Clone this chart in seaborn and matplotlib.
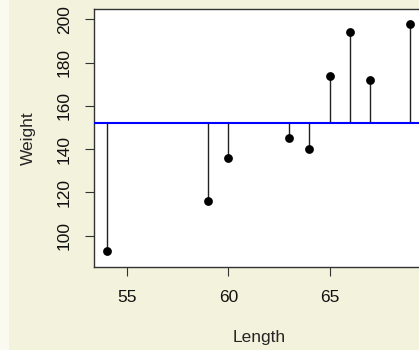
import numpy as np
import pandas as pd
import seaborn as sns
import matplotlib.pyplot as plt
from matplotlib.patches import Rectangle

# Data
length = [54, 59, 60, 63, 64, 65, 66, 67, 69]
weight = [93, 116, 136, 145, 140, 174, 194, 172, 198]
x_ticks = [55, 60, 65]
y_ticks = [100, 120, 140, 160, 180, 200]

df = pd.DataFrame({'Length': length, 'Weight': weight})
mean_weight = df['Weight'].mean()

sns.set_style('white')
plt.rcParams['font.family'] = ['Liberation Sans', 'DejaVu Sans']

bg = '#F3F2DD'
fig = plt.figure(figsize=(4.19, 3.5), dpi=100, facecolor=bg)
# lighter strip at the left edge
fig.patches.append(Rectangle((0, 0), 9 / 419, 1, transform=fig.transFigure,
                             facecolor='#FBFAF1', edgecolor='none', zorder=0))

ax = fig.add_axes([94 / 419, 83.3 / 350, 329.4 / 419, 257.4 / 350])
ax.set_facecolor('white')

# segments from each point to the mean line
ax.vlines(df['Length'], mean_weight, df['Weight'], color='#222222', linewidth=1, zorder=2)
ax.axhline(mean_weight, color='#0000FF', linewidth=1.5, zorder=3)
sns.scatterplot(data=df, x='Length', y='Weight', ax=ax, color='black', s=40,
                edgecolor='black', linewidth=0, zorder=4)

ax.set_xlim(53.36, 69.64)
ax.set_ylim(85.7, 204.6)
ax.set_xticks(x_ticks)
ax.set_yticks(y_ticks)
ax.tick_params(axis='both', direction='out', length=6.5, width=0.8, color='#333333',
               labelsize=12.5, labelcolor='#111111', left=True, bottom=True)
ax.tick_params(axis='x', pad=10.5)
ax.tick_params(axis='y', pad=9.5)
for lab in ax.get_yticklabels():
    lab.set_rotation(90)
    lab.set_va('center')

for side in ['left', 'top', 'bottom', 'right']:
    ax.spines[side].set_color('#333333')
    ax.spines[side].set_linewidth(1)

ax.set_xlabel('Length', fontsize=12.5, labelpad=18)
ax.set_ylabel('Weight', fontsize=12.5, labelpad=15)

fig.savefig('out.png', dpi=100, facecolor=bg)
